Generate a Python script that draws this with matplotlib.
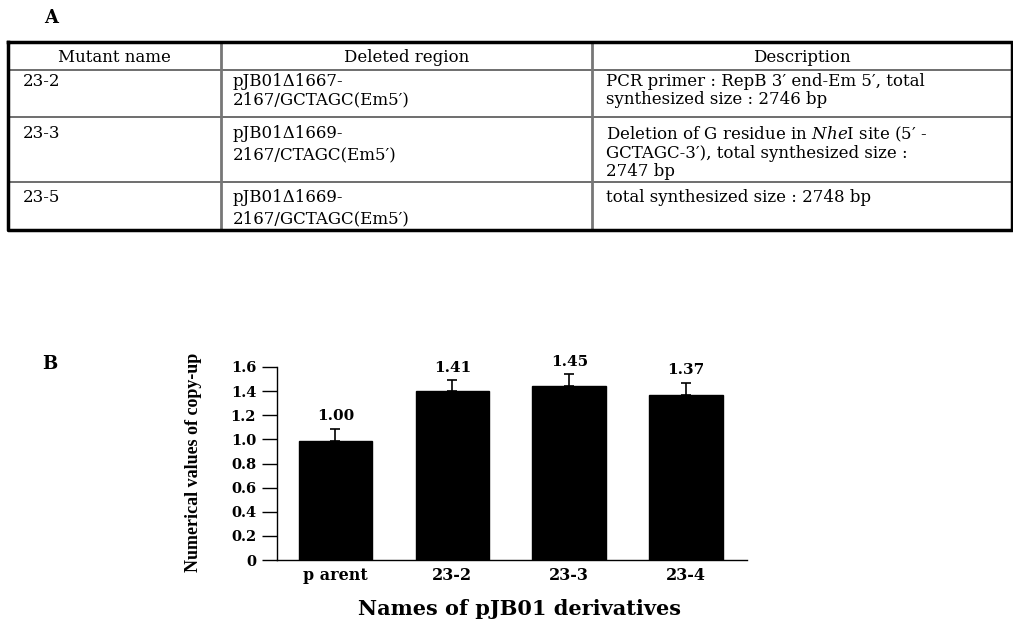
import numpy as np
import matplotlib
matplotlib.use('Agg')
import matplotlib.pyplot as plt

plt.rcParams['font.family'] = ['DejaVu Serif', 'Liberation Serif']
plt.rcParams['mathtext.fontset'] = 'custom'
plt.rcParams['mathtext.rm'] = 'DejaVu Serif'
plt.rcParams['mathtext.it'] = 'DejaVu Serif:italic'

# 표 데이터 (A)
table_header = ['Mutant name', 'Deleted region', 'Description']
mutant_names = ['23-2', '23-3', '23-5']
deleted_regions = ['pJB01\u03941667-\n2167/GCTAGC(Em5\u2032)',
                   'pJB01\u03941669-\n2167/CTAGC(Em5\u2032)',
                   'pJB01\u03941669-\n2167/GCTAGC(Em5\u2032)']
descriptions = ['PCR primer : RepB 3\u2032 end-Em 5\u2032, total\nsynthesized size : 2746 bp',
                'Deletion of G residue in $\\mathit{Nhe}$I site (5\u2032 -\nGCTAGC-3\u2032), total synthesized size :\n2747 bp',
                'total synthesized size : 2748 bp']

# 막대 그래프 데이터 (B)
strains = ['p arent', '23-2', '23-3', '23-4']
copy_values = [1.00, 1.41, 1.45, 1.37]
bar_heights = [0.99, 1.40, 1.44, 1.37]
errors = [0.10, 0.09, 0.10, 0.10]
y_ticks = [0, 0.2, 0.4, 0.6, 0.8, 1.0, 1.2, 1.4, 1.6]
y_ticklabels = ['0', '0.2', '0.4', '0.6', '0.8', '1.0', '1.2', '1.4', '1.6']

W, H = 1013, 619
fig = plt.figure(figsize=(W / 100, H / 100), dpi=100)

# 픽셀 좌표용 배경 축
bg = fig.add_axes([0, 0, 1, 1])
bg.set_xlim(0, W)
bg.set_ylim(H, 0)
bg.axis('off')

# 표 선
row_lines = [42, 70, 117, 182, 230]
col_lines = [8, 221, 592, 1012]
for y in row_lines[1:-1]:
    bg.plot([col_lines[0], col_lines[-1]], [y, y], color='#555555', lw=1.2)
for x in col_lines[1:-1]:
    bg.plot([x, x], [row_lines[0], row_lines[-1]], color='#777777', lw=2.0)
bg.plot([col_lines[0], col_lines[-1], col_lines[-1], col_lines[0], col_lines[0]],
        [row_lines[0], row_lines[0], row_lines[-1], row_lines[-1], row_lines[0]],
        color='black', lw=2.5)

fs_tab = 12
for i, h in enumerate(table_header):
    cx = (col_lines[i] + col_lines[i + 1]) / 2
    bg.text(cx, (row_lines[0] + row_lines[1]) / 2 + 1, h, ha='center', va='center',
            fontsize=fs_tab)

text_tops = [73, 125, 189]
region_spacing = [1.1, 1.3, 1.3]
for r in range(3):
    ytop = text_tops[r]
    bg.text(23, ytop, mutant_names[r], ha='left', va='top', fontsize=fs_tab)
    bg.text(233, ytop, deleted_regions[r], ha='left', va='top', fontsize=fs_tab,
            linespacing=region_spacing[r])
    bg.text(606, ytop, descriptions[r], ha='left', va='top', fontsize=fs_tab,
            linespacing=1.07)

bg.text(51, 18, 'A', ha='center', va='center', fontsize=13, fontweight='bold')
bg.text(50, 364, 'B', ha='center', va='center', fontsize=13, fontweight='bold')

# 막대 그래프
ax = fig.add_axes([277 / W, 1 - 560 / H, (747 - 277) / W, (560 - 367) / H])
x = np.arange(len(strains))
ax.bar(x, bar_heights, width=0.63, color='black', edgecolor='black')
ax.errorbar(x, bar_heights, yerr=[np.zeros(len(errors)), errors], fmt='none',
            ecolor='black', elinewidth=1.2, capsize=3.5, capthick=1.2)
for xi, h, e, v in zip(x, bar_heights, errors, copy_values):
    ax.annotate(f'{v:.2f}', (xi, h + e), xytext=(0, 4), textcoords='offset points',
                ha='center', va='bottom', fontsize=11, fontweight='bold')

ax.set_xlim(-0.5, 3.52)
ax.set_ylim(0, 1.6)
ax.set_yticks(y_ticks)
ax.set_yticklabels(y_ticklabels, fontsize=10.5, fontweight='bold')
ax.set_xticks(x)
ax.set_xticklabels(strains, fontsize=11.5, fontweight='bold')
ax.tick_params(axis='y', direction='out', length=11, width=1.0, pad=4)
ax.tick_params(axis='x', length=0, pad=5)
ax.spines['top'].set_visible(False)
ax.spines['right'].set_visible(False)
ax.spines['left'].set_linewidth(1.0)
ax.spines['bottom'].set_linewidth(1.0)

bg.text(193, 462, 'Numerical values of copy-up', rotation=90, ha='center', va='center',
        fontsize=13, fontweight='bold', family=['Liberation Serif', 'DejaVu Serif'])
bg.text(520, 609, 'Names of pJB01 derivatives', ha='center', va='center',
        fontsize=15, fontweight='bold')

fig.savefig('out.png', dpi=100)
